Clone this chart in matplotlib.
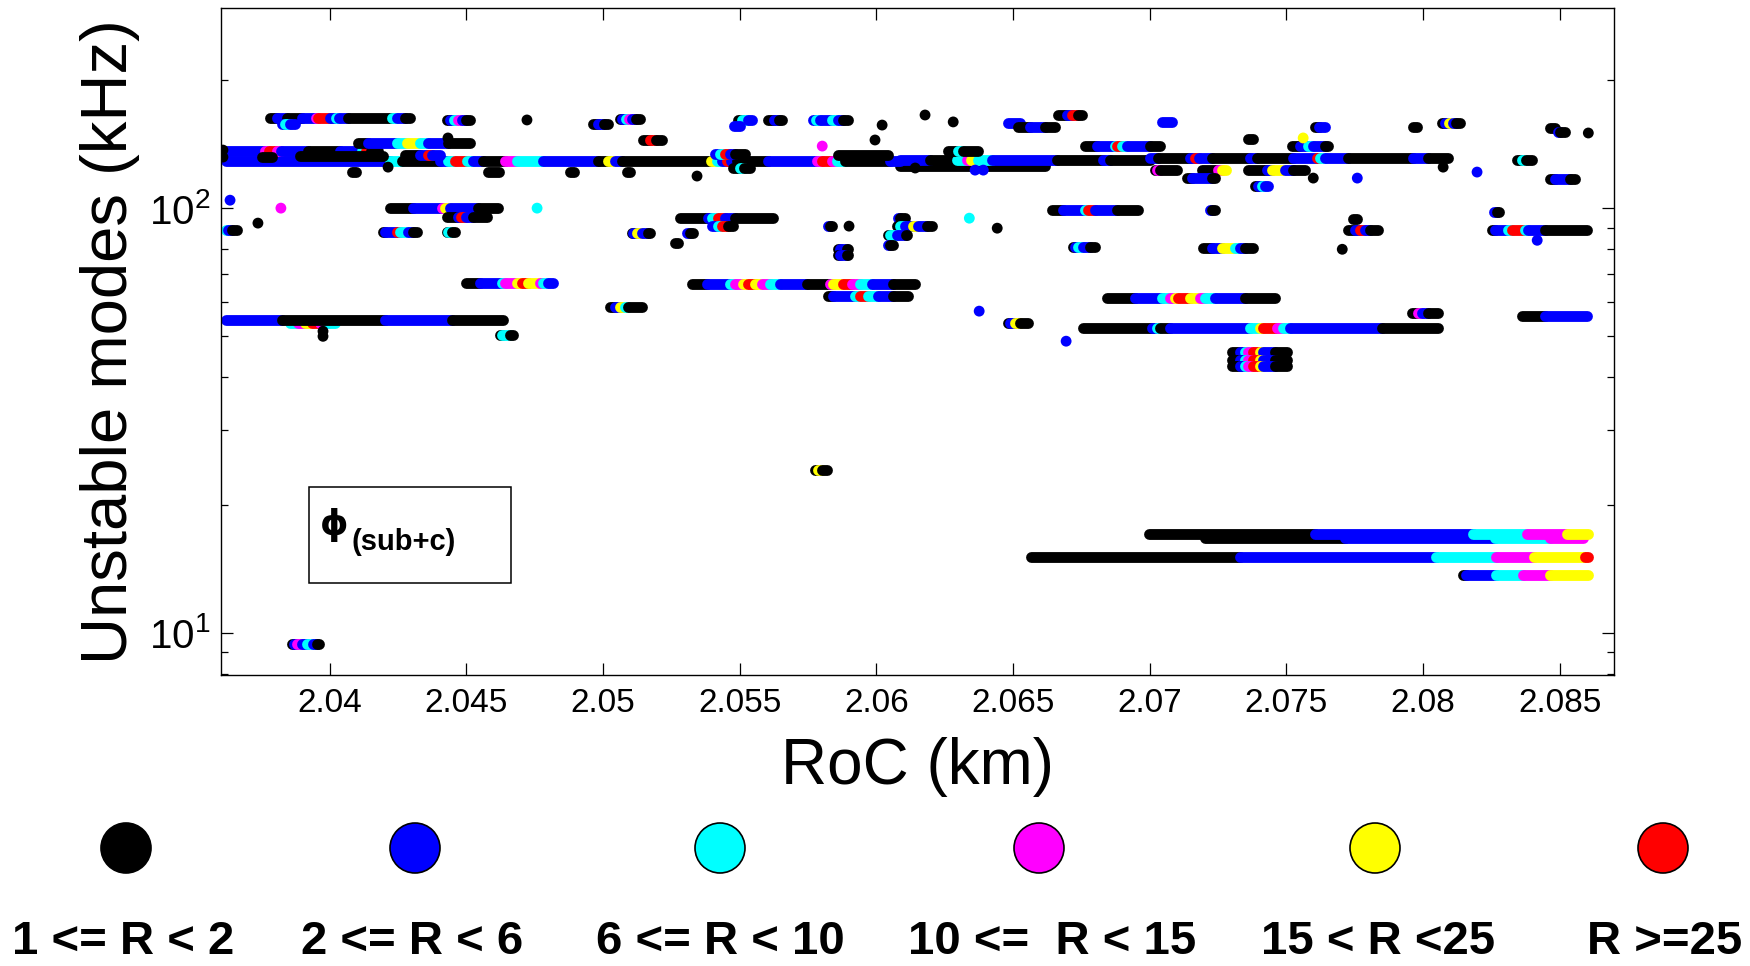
import matplotlib
matplotlib.use("Agg")
import matplotlib.pyplot as plt
from matplotlib.collections import LineCollection
from matplotlib.patches import Rectangle
from matplotlib.ticker import MultipleLocator, FormatStrFormatter, NullFormatter

plt.rcParams['font.family'] = ['Liberation Sans', 'DejaVu Sans']
plt.rcParams['mathtext.default'] = 'regular'

# R classes: legend text and colour, one letter code per class
r_labels = ["1 <= R < 2", "2 <= R < 6", "6 <= R < 10", "10 <=  R < 15", "15 < R <25", "R >=25"]
r_colors = ["#000000", "#0000ff", "#00ffff", "#ff00ff", "#ffff00", "#ff0000"]
r_codes = "kbcmyr"

# unstable modes: frequency (kHz), RoC breakpoints (km), class of each run between breakpoints
mode_khz = [
    125.6, 16.75, 53.6,
    129.1, 129.8, 131.2,
    136.3, 132.6, 131.9, 133.4, 134.1, 133.4, 136.3, 124.3, 122.9, 122.9, 122.9, 117.7, 112.7, 129.8, 117.0,
    121.6, 121.6, 121.6, 121.6,
    163.1, 157.8, 161.3, 157.8, 162.2, 144.7, 142.3, 161.3, 156.1, 161.3, 161.3, 158.7, 155.2, 165.7, 159.6,
    155.2, 155.2, 158.7, 154.4, 151.1, 140.0, 145.5, 140.0,
    100.0, 95.2, 88.7, 87.8, 87.8, 87.3, 94.7, 90.7, 87.3, 82.7, 90.7, 94.7, 90.7, 86.4, 81.8, 80.0, 77.5,
    98.9, 98.9, 80.9, 80.5, 88.7, 94.2, 97.9, 88.7,
    66.5, 66.2, 62.0, 58.4, 54.4, 50.2, 61.3, 52.1, 56.6, 55.6, 53.6, 45.8, 44.0, 42.4,
    24.2, 17.1, 15.1, 13.7, 9.42,
]
mode_roc = [
    [2.06087, 2.06617],
    [2.07203, 2.07715, 2.08263, 2.08465, 2.08585],
    [2.03855, 2.03885, 2.03910, 2.03936, 2.03965, 2.03994, 2.04020],
    [2.03621, 2.04221, 2.04265, 2.04404, 2.04433, 2.04459, 2.04503, 2.04525, 2.04561, 2.04642, 2.04686,
     2.04781, 2.04982, 2.05019, 2.05044, 2.05070, 2.05395, 2.05417, 2.05436, 2.05454, 2.05469, 2.05491,
     2.05604, 2.05783, 2.05802, 2.05838, 2.05856, 2.05886, 2.06050, 2.06087],
    [2.06087, 2.06197, 2.06296, 2.06332, 2.06347, 2.06372, 2.06424, 2.06662, 2.06829, 2.06855, 2.07001],
    [2.07001, 2.07031, 2.07148, 2.07166, 2.07181, 2.07228, 2.07367, 2.07393, 2.07525, 2.07612, 2.07623,
     2.07641, 2.07726, 2.07963, 2.08018, 2.08091],
    [2.03621, 2.03764, 2.03779, 2.03808, 2.03822, 2.03921, 2.04038, 2.04119, 2.04133, 2.04152, 2.04177],
    [2.03892, 2.04196],
    [2.03753, 2.03790],
    [2.04276, 2.04331, 2.04360, 2.04375, 2.04404],
    [2.05410, 2.05428, 2.05447, 2.05465, 2.05483, 2.05520],
    [2.05860, 2.06043],
    [2.06262, 2.06299, 2.06317, 2.06372],
    [2.05476, 2.05501, 2.05516, 2.05538],
    [2.07020, 2.07027, 2.07038, 2.07100],
    [2.07191, 2.07250, 2.07265, 2.07279],
    [2.07360, 2.07430, 2.07448, 2.07495, 2.07525, 2.07568],
    [2.07137, 2.07155, 2.07228, 2.07239],
    [2.07385, 2.07397, 2.07411, 2.07422, 2.07433],
    [2.08344, 2.08362, 2.08377, 2.08399],
    [2.08465, 2.08483, 2.08538, 2.08556],
    [2.04082, 2.04097],
    [2.04580, 2.04620],
    [2.04880, 2.04894],
    [2.05088, 2.05099],
    [2.03782, 2.03808, 2.03844, 2.03899, 2.03951, 2.03958, 2.04002, 2.04024, 2.04035, 2.04068, 2.04229,
     2.04247, 2.04276, 2.04294],
    [2.03826, 2.03837, 2.03855, 2.03874],
    [2.04430, 2.04441, 2.04455, 2.04470, 2.04485, 2.04499, 2.04514],
    [2.04964, 2.04982, 2.05004, 2.05019],
    [2.05063, 2.05070, 2.05084, 2.05095, 2.05106, 2.05121, 2.05136],
    [2.05147, 2.05172, 2.05194, 2.05216],
    [2.04104, 2.04141, 2.04247, 2.04283, 2.04331, 2.04360, 2.04433, 2.04514],
    [2.05494, 2.05509, 2.05531, 2.05545],
    [2.05480, 2.05501],
    [2.05604, 2.05626, 2.05644, 2.05655],
    [2.05769, 2.05780, 2.05794, 2.05838, 2.05860, 2.05878, 2.05897],
    [2.06482, 2.06526],
    [2.06518, 2.06562, 2.06617, 2.06654],
    [2.06665, 2.06698, 2.06716, 2.06738, 2.06752],
    [2.07046, 2.07082],
    [2.07605, 2.07619, 2.07641],
    [2.07963, 2.07978],
    [2.08069, 2.08080, 2.08095, 2.08109, 2.08121, 2.08135],
    [2.08465, 2.08483],
    [2.08494, 2.08501, 2.08519],
    [2.06764, 2.06808, 2.06873, 2.06881, 2.06899, 2.06917, 2.07001, 2.07038],
    [2.07360, 2.07378],
    [2.07521, 2.07550, 2.07579, 2.07598, 2.07641, 2.07652],
    [2.04221, 2.04305, 2.04411, 2.04422, 2.04441, 2.04543, 2.04616],
    [2.04430, 2.04470, 2.04481, 2.04499, 2.04525, 2.04576],
    [2.03621, 2.03629, 2.03643, 2.03662],
    [2.04196, 2.04203, 2.04247, 2.04258, 2.04287, 2.04305, 2.04320],
    [2.04430, 2.04433, 2.04448, 2.04459],
    [2.05106, 2.05110, 2.05125, 2.05143, 2.05165, 2.05172],
    [2.05282, 2.05384, 2.05399, 2.05421, 2.05447, 2.05483, 2.05622],
    [2.05399, 2.05421, 2.05436, 2.05458, 2.05476],
    [2.05308, 2.05319, 2.05330],
    [2.05264, 2.05275],
    [2.05823, 2.05831, 2.05838],
    [2.06079, 2.06087, 2.06105],
    [2.06076, 2.06087, 2.06105, 2.06134, 2.06153, 2.06186, 2.06204],
    [2.06043, 2.06050, 2.06076, 2.06109, 2.06112],
    [2.06043, 2.06050, 2.06061],
    [2.05860, 2.05867, 2.05893, 2.05897],
    [2.05860, 2.05867, 2.05893, 2.05897],
    [2.06643, 2.06684, 2.06764, 2.06775, 2.06800, 2.06881, 2.06957],
    [2.07221, 2.07228, 2.07239],
    [2.06720, 2.06727, 2.06738, 2.06756, 2.06782, 2.06800],
    [2.07195, 2.07228, 2.07265, 2.07312, 2.07331, 2.07349, 2.07378],
    [2.07726, 2.07751, 2.07770, 2.07788, 2.07806, 2.07835],
    [2.07744, 2.07759],
    [2.08260, 2.08271, 2.08278],
    [2.08252, 2.08263, 2.08311, 2.08326, 2.08373, 2.08384, 2.08446, 2.08600],
    [2.04499, 2.04550, 2.04631, 2.04642, 2.04686, 2.04704, 2.04726, 2.04770, 2.04781, 2.04799, 2.04817],
    [2.05326, 2.05381, 2.05465, 2.05483, 2.05513, 2.05531, 2.05557, 2.05582, 2.05611, 2.05648, 2.05747,
     2.05831, 2.05842, 2.05878, 2.05911, 2.05940, 2.05984, 2.06061, 2.06142],
    [2.05823, 2.05842, 2.05922, 2.05940, 2.05970, 2.06006, 2.06061, 2.06116],
    [2.05026, 2.05044, 2.05063, 2.05081, 2.05092, 2.05143],
    [2.03621, 2.03826, 2.04203, 2.04448, 2.04635],
    [2.04624, 2.04631, 2.04660, 2.04671],
    [2.06844, 2.06947, 2.07046, 2.07075, 2.07093, 2.07104, 2.07148, 2.07184, 2.07203, 2.07239, 2.07349,
     2.07459],
    [2.06756, 2.07009, 2.07027, 2.07038, 2.07075, 2.07367, 2.07404, 2.07415, 2.07466, 2.07488, 2.07514,
     2.07850, 2.08055],
    [2.07960, 2.07982, 2.07996, 2.08018, 2.08055],
    [2.08362, 2.08446, 2.08600],
    [2.06482, 2.06490, 2.06508, 2.06526, 2.06555],
    [2.07301, 2.07331, 2.07349, 2.07360, 2.07378, 2.07404, 2.07415, 2.07459, 2.07503],
    [2.07301, 2.07331, 2.07349, 2.07360, 2.07378, 2.07404, 2.07415, 2.07459, 2.07503],
    [2.07301, 2.07331, 2.07349, 2.07360, 2.07378, 2.07404, 2.07415, 2.07459, 2.07503],
    [2.05776, 2.05787, 2.05802, 2.05820],
    [2.06998, 2.07605, 2.08183, 2.08380, 2.08527, 2.08604],
    [2.06566, 2.07331, 2.08047, 2.08267, 2.08406, 2.08593, 2.08604],
    [2.08146, 2.08157, 2.08267, 2.08366, 2.08465, 2.08604],
    [2.03863, 2.03870, 2.03881, 2.03899, 2.03918, 2.03940, 2.03954, 2.03961],
]
mode_cls = [
    "k", "kbcm", "cmyrmc",
    "bckbcrcbkmcbkybkycbrbkbmrmckb", "bkcmycbkbk", "bkbrbkbkbrcbkbk",
    "bmrmbkbcrk", "k", "k", "kbrb", "bcrbk", "k", "kck", "kck", "kmk", "kmy", "kbybk", "kbk", "kbcb", "kck", "kbk",
    "k", "k", "k", "k",
    "kbkbmrbcbkcbk", "bcb", "kbcmbk", "kbk", "kbcmbk", "krk", "kbcycbk", "kcb", "b", "kbk", "bcbcbk", "b", "kbk",
    "kbrk", "b",
    "kb", "k", "kbybk", "k", "bk", "kbcrcbk", "k", "kbcbk",
    "kbmybk", "kbrbk", "cbk", "kbrcbk", "kck", "kbybk", "kbcrbk", "bcrk", "bk", "k", "bk", "bk", "kcbybk", "kcbk",
    "bk", "kbk", "kbk",
    "kbcrbk", "bk", "kbcbk", "kbycbk", "kbrbk", "k", "bk", "kbcrcbk",
    "kbcmyrymcb", "kbcmyrymcbkmyrmcbk", "kbcrcbk", "kbyck", "bkbk", "kck", "kbcmyrymcbk", "kbckbcyrmcbk", "kmbk",
    "kb", "kbyk", "kbcmrybk", "kbcmrybk", "kbcmrybk",
    "kyk", "kbcmy", "kbcmyr", "kbcmy", "kbmbcbk",
]

# isolated single points
dot_roc = [2.04722, 2.04433, 2.06178, 2.06281, 2.06021, 2.05995, 2.05802, 2.08604, 2.07561, 2.03610, 2.03610,
           2.05344, 2.06142, 2.06361, 2.06391, 2.07598, 2.07759, 2.08197, 2.08073, 2.04214, 2.03636, 2.03822,
           2.04759, 2.03738, 2.05900, 2.06340, 2.06442, 2.07704, 2.08417, 2.06376, 2.06694, 2.03976, 2.03976]
dot_khz = [161.3, 146.3, 165.7, 159.6, 156.9, 144.7, 140.0, 150.3, 146.3, 137.0, 131.9,
           119.0, 124.3, 122.9, 122.9, 117.7, 117.7, 121.6, 124.9, 124.9, 104.4, 100.0,
           100.0, 92.2, 90.7, 94.7, 89.7, 80.0, 84.0, 57.2, 48.6, 51.3, 49.9]
dot_cls = "kkkkkkmkykkkkbbkbbkkbmckkckkbbbkk"

dot_pt = 7.8  # marker diameter in points

fig = plt.figure(figsize=(17.5, 9.66), dpi=100)
ax = fig.add_axes([0.1263, 0.3012, 0.796, 0.6905])

segs, seg_colors = [], []
for f, roc, cls in zip(mode_khz, mode_roc, mode_cls):
    if len(cls) != len(roc) - 1:
        print("run mismatch at", f, roc[0])
    for i, c in enumerate(cls[:len(roc) - 1]):
        segs.append([(roc[i], f), (roc[i + 1], f)])
        seg_colors.append(r_colors[r_codes.index(c)])

ax.add_collection(LineCollection(segs, colors=seg_colors, linewidths=dot_pt, capstyle='round'))
ax.scatter(dot_roc, dot_khz, s=dot_pt ** 2, c=[r_colors[r_codes.index(c)] for c in dot_cls],
           linewidths=0, zorder=3)

ax.set_yscale('log')
ax.set_xlim(2.03603, 2.08698)
ax.set_ylim(7.95, 296)
ax.xaxis.set_major_locator(MultipleLocator(0.005))
ax.xaxis.set_major_formatter(FormatStrFormatter('%g'))
ax.yaxis.set_minor_formatter(NullFormatter())
ax.tick_params(which='both', direction='in', top=True, right=True, width=0.9)
ax.tick_params(which='major', length=8.5)
ax.tick_params(which='minor', length=5)
ax.tick_params(axis='x', labelsize=24, pad=9)
ax.tick_params(axis='y', labelsize=29, pad=8)
for sp in ax.spines.values():
    sp.set_linewidth(1.0)

ax.set_xlabel('RoC (km)', fontsize=46)
ax.xaxis.set_label_coords(0.5, -0.093)
ax.set_ylabel('Unstable modes (kHz)', fontsize=47)
ax.yaxis.set_label_coords(-0.058, 0.5)

# configuration tag in the lower left
ax.add_patch(Rectangle((0.0632, 0.138), 0.145, 0.144, transform=ax.transAxes,
                       fill=False, edgecolor='black', linewidth=1.1))
ax.text(0.081, 0.225, '\u03d5', transform=ax.transAxes, fontsize=26, fontweight='bold',
        family='DejaVu Sans', ha='center', va='center')
ax.text(0.131, 0.199, '(sub+c)', transform=ax.transAxes, fontsize=21, fontweight='bold',
        ha='center', va='center')

# colour key along the bottom
key = fig.add_axes([0, 0, 1, 1])
key.set_xlim(0, 1750)
key.set_ylim(966, 0)
key.axis('off')
key_x = [126, 415, 720, 1039, 1375, 1663]
text_x = [123, 412, 720, 1052, 1378, 1665]
key.scatter(key_x, [848] * len(key_x), s=36 ** 2, c=r_colors, edgecolors='black', linewidths=1.2)
for tx, lab in zip(text_x, r_labels):
    key.text(tx, 942, lab, fontsize=34, fontweight='bold', ha='center', va='center')

fig.savefig('out.png', dpi=100)
